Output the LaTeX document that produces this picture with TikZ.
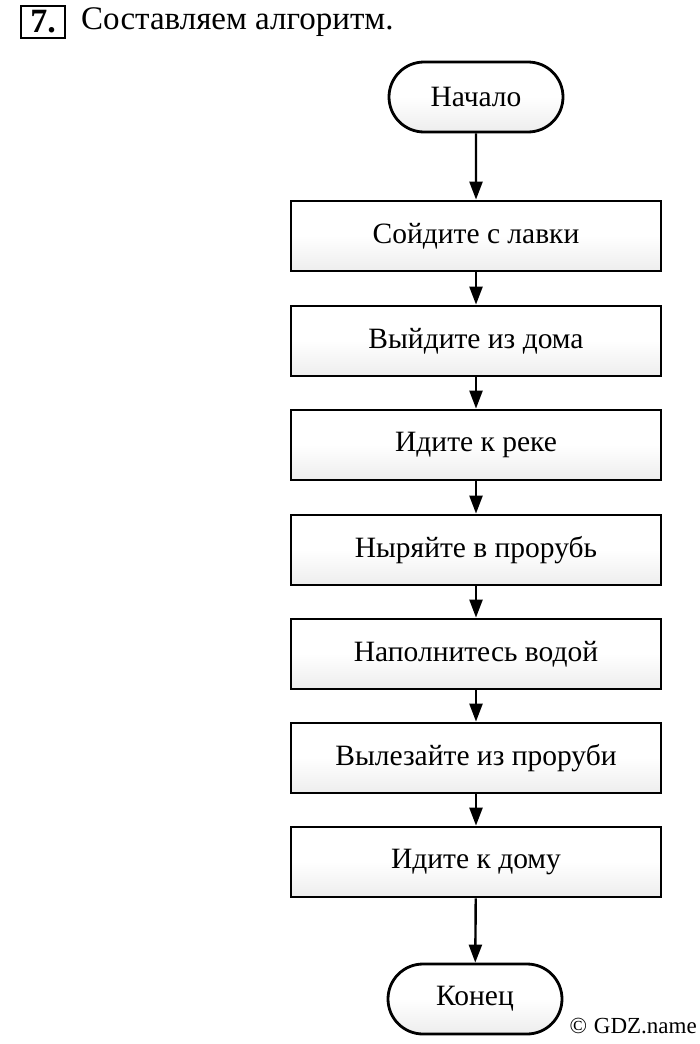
\documentclass[tikz,border=0pt]{standalone}
\usepackage{fontspec}
\setmainfont{Liberation Serif}
\usetikzlibrary{arrows.meta,shapes.misc}
\begin{document}
\begin{tikzpicture}[x=1pt,y=-1pt,
  stepbox/.style={draw,line width=2.8pt,minimum width=370pt,minimum height=70pt,
    inner sep=0pt,font=\fontsize{29.5}{32}\selectfont,
    top color=white,bottom color=gray!14,middle color=white},
  term/.style={draw,line width=2.8pt,rounded rectangle,minimum width=174pt,minimum height=70pt,
    inner sep=0pt,font=\fontsize{29.5}{32}\selectfont,
    top color=white,bottom color=gray!14,middle color=white},
  flow/.style={line width=2.4pt,-{Triangle[length=18pt,width=13pt]}}]
\useasboundingbox (0,0) rectangle (700,1044);
\fill[white] (0,0) rectangle (700,1044);
% header
\node[draw,line width=2.8pt,minimum width=44pt,minimum height=32pt,inner sep=0pt,
  font=\bfseries\fontsize{34}{36}\selectfont] (num) at (43,22) {7.};
\node[anchor=west,inner sep=0pt,font=\fontsize{33}{36}\selectfont] (title) at (81,22) {Составляем алгоритм.};
% flowchart
\node[term] (start) at (476,97) {Начало};
\node[stepbox] (s1) at (476,236) {Сойдите с лавки};
\node[stepbox] (s2) at (476,341) {Выйдите из дома};
\node[stepbox] (s3) at (476,445) {Идите к реке};
\node[stepbox] (s4) at (476,550) {Ныряйте в прорубь};
\node[stepbox] (s5) at (476,654) {Наполнитесь водой};
\node[stepbox] (s6) at (476,758) {Вылезайте из проруби};
\node[stepbox] (s7) at (476,862) {Идите к дому};
\node[term] (end) at (475,999) {Конец};
\draw[flow] (start) -- (s1);
\draw[flow] (s1) -- (s2);
\draw[flow] (s2) -- (s3);
\draw[flow] (s3) -- (s4);
\draw[flow] (s4) -- (s5);
\draw[flow] (s5) -- (s6);
\draw[flow] (s6) -- (s7);
\draw[flow] (s7) -- (end);
\node[anchor=east,inner sep=0pt,font=\fontsize{23}{25}\selectfont] (copy) at (697,1026) {©\hspace{7pt}GDZ.name};
\end{tikzpicture}
\end{document}
